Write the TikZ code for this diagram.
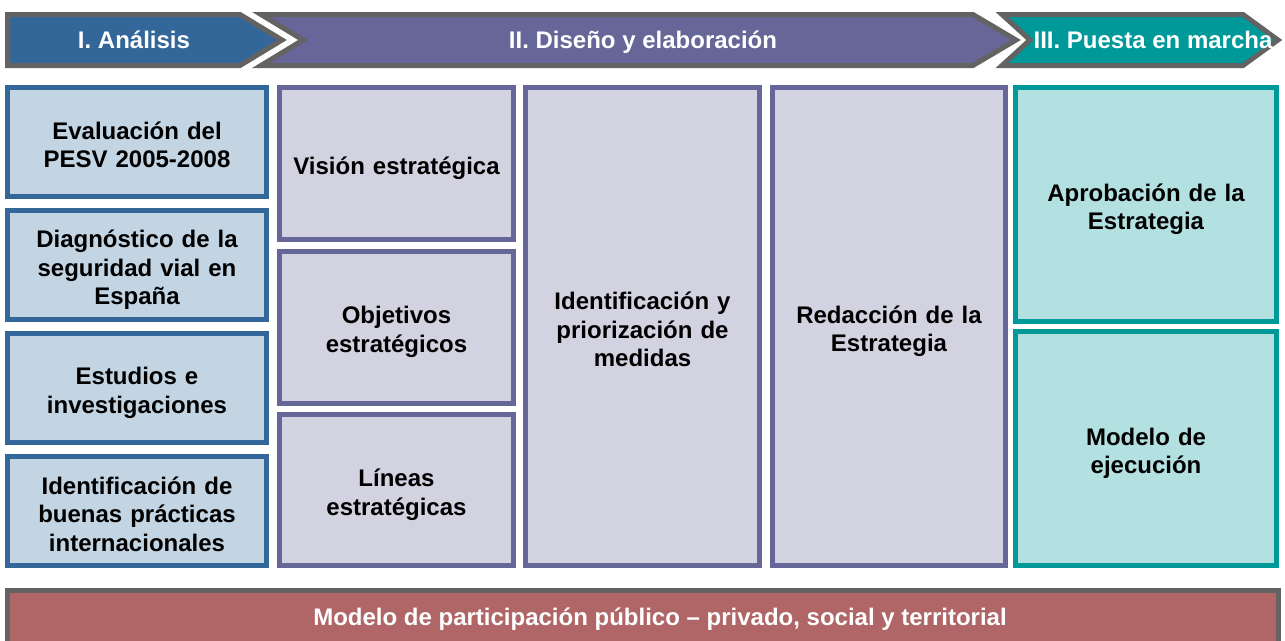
\documentclass[tikz,border=0pt]{standalone}
\usepackage{fontspec}
\setmainfont{Liberation Sans}
\usetikzlibrary{positioning}

\definecolor{grayLine}{HTML}{636363}
\definecolor{anaArrow}{HTML}{336699}
\definecolor{disArrow}{HTML}{666699}
\definecolor{pueArrow}{HTML}{009999}
\definecolor{anaFill}{HTML}{C3D4E3}
\definecolor{disFill}{HTML}{D2D2E0}
\definecolor{pueFill}{HTML}{B3E0E0}
\definecolor{barFill}{HTML}{B06666}

\newcommand{\boxfont}{\fontsize{24}{28.5}\selectfont\bfseries}

\tikzset{
    box/.style={draw, rectangle, line width=5pt, font=\boxfont, align=center, inner sep=0pt, text width=220pt,
        execute at begin node={\rule{0pt}{27pt}}, execute at end node={\rule[-4pt]{0pt}{4pt}}},
    ana/.style={box, draw=anaArrow, fill=anaFill, minimum width=259pt, minimum height=109pt},
    dis/.style={box, draw=disArrow, fill=disFill, minimum width=234pt},
    pue/.style={box, draw=pueArrow, fill=pueFill, minimum width=261pt, minimum height=234pt},
    phase/.style={draw=grayLine, line width=5pt},
    phaselabel/.style={font=\boxfont, text=white, inner sep=0pt, anchor=base}
}

\begin{document}
\begin{tikzpicture}[x=1pt, y=-1pt]
    \useasboundingbox (0,0) rectangle (1285,640);
    \clip (0,0) rectangle (1285,640);

    % fases
    \draw[phase, fill=anaArrow] (7.5,14.5) -- (240,14.5) -- (282,40) -- (240,65.5) -- (7.5,65.5) -- cycle;
    \draw[phase, fill=disArrow] (261,14.5) -- (973,14.5) -- (1016,40) -- (973,65.5) -- (261,65.5) -- (303,40) -- cycle;
    \draw[phase, fill=pueArrow] (1002,14.5) -- (1243,14.5) -- (1278,40) -- (1243,65.5) -- (1002,65.5) -- (1030,40) -- cycle;
    \node[phaselabel] (fase1) at (134,48.5) {I. Análisis};
    \node[phaselabel] (fase2) at (643,48.5) {II. Diseño y elaboración};
    \node[phaselabel] (fase3) at (1153,48.5) {III. Puesta en marcha};

    % I. Analisis
    \node[ana, anchor=north west] (eval) at (5,85) {Evaluación del\\PESV 2005-2008};
    \node[ana, below=9pt of eval] (diag) {Diagnóstico de la\\seguridad vial en\\España};
    \node[ana, below=9pt of diag] (estu) {Estudios e\\investigaciones};
    \node[ana, below=9pt of estu] (buen) {Identificación de\\buenas prácticas\\internacionales};

    % II. Diseno y elaboracion
    \node[dis, minimum height=152pt, right=8pt of eval.north east, anchor=north west] (vision) {Visión estratégica};
    \node[dis, minimum height=152pt, below=6.5pt of vision] (obje) {Objetivos\\estratégicos};
    \node[dis, minimum height=151pt, below=6.5pt of obje] (line) {Líneas\\estratégicas};
    \node[dis, minimum height=478pt, right=7pt of vision.north east, anchor=north west] (medi) {Identificación y\\priorización de\\medidas};
    \node[dis, minimum width=233pt, minimum height=478pt, right=8pt of medi.north east, anchor=north west] (reda) {Redacción de la\\Estrategia};

    % III. Puesta en marcha
    \node[pue, right=5pt of reda.north east, anchor=north west] (apro) {Aprobación de la\\Estrategia};
    \node[pue, below=5pt of apro] (ejec) {Modelo de\\ejecución};

    % participacion
    \draw[phase, fill=barFill] (7.5,590.5) rectangle (1278.5,660);
    \node[phaselabel] (part) at (660,625) {Modelo de participación público – privado, social y territorial};
\end{tikzpicture}
\end{document}
